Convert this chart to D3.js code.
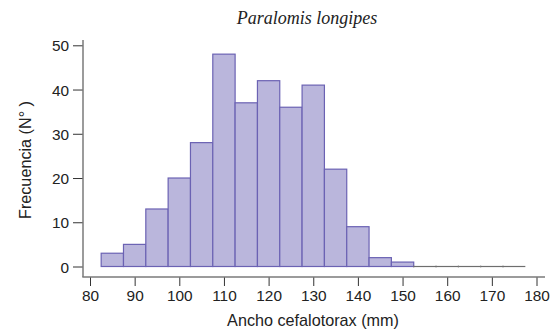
<!DOCTYPE html>
<html>
<head>
<meta charset="utf-8">
<script src="https://cdn.jsdelivr.net/npm/d3@7"></script>
<style>
  html, body { margin: 0; padding: 0; background: #fff; }
  svg { display: block; }
  .tick text { font-family: "Liberation Sans", Arial, sans-serif; font-size: 15.4px; fill: #222; }
</style>
</head>
<body>
<svg id="chart" width="557" height="329"></svg>
<script>
// Histogram of carapace width, Paralomis longipes (5 mm bins)
const binStarts = [82.5, 87.5, 92.5, 97.5, 102.5, 107.5, 112.5, 117.5, 122.5, 127.5,
                   132.5, 137.5, 142.5, 147.5, 152.5, 157.5, 162.5, 167.5, 172.5];
const binWidth = 5;
const counts = [3, 5, 13, 20, 28, 48, 37, 42, 36, 41, 22, 9, 2, 1, 0, 0, 0, 0, 0];
const xTicks = [80, 90, 100, 110, 120, 130, 140, 150, 160, 170, 180];
const yTicks = [0, 10, 20, 30, 40, 50];

const svg = d3.select("#chart");

const x = d3.scaleLinear().domain([80, 180]).range([90, 536.5]);
const y = d3.scaleLinear().domain([0, 50]).range([266.5, 45.3]);

const axisColor = "#7a7a7a";

// bars
const bars = binStarts.map((s, i) => ({ x0: s, x1: s + binWidth, n: counts[i] }));

svg.append("g").selectAll("rect")
  .data(bars.filter(d => d.n > 0))
  .join("rect")
  .attr("x", d => x(d.x0))
  .attr("y", d => y(d.n))
  .attr("width", d => x(d.x1) - x(d.x0))
  .attr("height", d => y(0) - y(d.n))
  .attr("fill", "#bab6dc")
  .attr("stroke", "#6b62b3")
  .attr("stroke-width", 1.2);

// empty bins drawn as flat outlines on the baseline
const empty = bars.filter(d => d.n === 0);
svg.append("g").selectAll("line")
  .data(empty)
  .join("line")
  .attr("x1", d => x(d.x0))
  .attr("x2", d => x(d.x1))
  .attr("y1", y(0))
  .attr("y2", y(0))
  .attr("stroke", "#6e6e6e")
  .attr("stroke-width", 1.2);
svg.append("g").selectAll("line")
  .data(empty)
  .join("line")
  .attr("x1", d => x(d.x0))
  .attr("x2", d => x(d.x0))
  .attr("y1", y(0) - 1)
  .attr("y2", y(0) + 1)
  .attr("stroke", "#6e6e6e")
  .attr("stroke-width", 0.8);

// y axis
const yAxis = d3.axisLeft(y).tickValues(yTicks).tickSize(10).tickPadding(4);
const gy = svg.append("g").attr("transform", "translate(83,0)").call(yAxis);
gy.select(".domain").remove();
gy.selectAll(".tick line").attr("stroke", "#333").attr("stroke-width", 1);
gy.selectAll(".tick text").attr("dy", "0.36em");
svg.append("line")
  .attr("x1", 83).attr("x2", 83)
  .attr("y1", 40).attr("y2", 277)
  .attr("stroke", axisColor).attr("stroke-width", 1.5);

// x axis
const xAxis = d3.axisBottom(x).tickValues(xTicks).tickSize(9).tickPadding(4);
const gx = svg.append("g").attr("transform", "translate(0,277)").call(xAxis);
gx.select(".domain").remove();
gx.selectAll(".tick line").attr("stroke", "#333").attr("stroke-width", 1);
svg.append("line")
  .attr("x1", 82.3).attr("x2", 545)
  .attr("y1", 277).attr("y2", 277)
  .attr("stroke", axisColor).attr("stroke-width", 1.5);

// title and axis labels
svg.append("text")
  .attr("x", 307).attr("y", 24)
  .attr("text-anchor", "middle")
  .attr("font-family", "'Liberation Serif', 'DejaVu Serif', serif")
  .attr("font-style", "italic")
  .attr("font-size", 18)
  .attr("fill", "#222")
  .text("Paralomis longipes");

svg.append("text")
  .attr("x", 313).attr("y", 326)
  .attr("text-anchor", "middle")
  .attr("font-family", "'Liberation Sans', Arial, sans-serif")
  .attr("font-size", 16.2)
  .attr("fill", "#222")
  .text("Ancho cefalotorax (mm)");

svg.append("text")
  .attr("transform", "translate(31,160) rotate(-90)")
  .attr("text-anchor", "middle")
  .attr("font-family", "'Liberation Sans', Arial, sans-serif")
  .attr("font-size", 16.2)
  .attr("fill", "#222")
  .text("Frecuencia (N° )");
</script>
</body>
</html>
